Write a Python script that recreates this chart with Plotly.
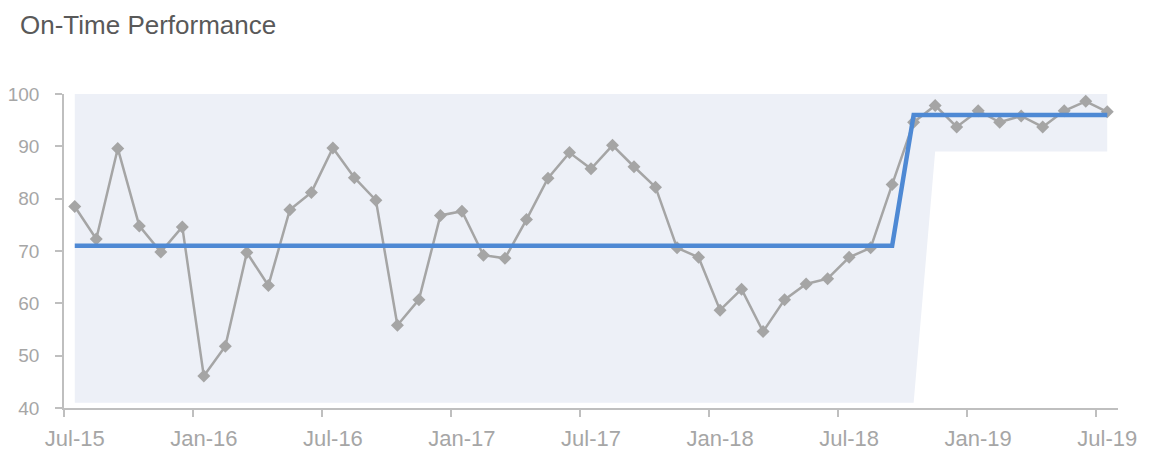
import plotly.graph_objects as go

months = ["Jul-15","Aug-15","Sep-15","Oct-15","Nov-15","Dec-15",
          "Jan-16","Feb-16","Mar-16","Apr-16","May-16","Jun-16",
          "Jul-16","Aug-16","Sep-16","Oct-16","Nov-16","Dec-16",
          "Jan-17","Feb-17","Mar-17","Apr-17","May-17","Jun-17",
          "Jul-17","Aug-17","Sep-17","Oct-17","Nov-17","Dec-17",
          "Jan-18","Feb-18","Mar-18","Apr-18","May-18","Jun-18",
          "Jul-18","Aug-18","Sep-18","Oct-18","Nov-18","Dec-18",
          "Jan-19","Feb-19","Mar-19","Apr-19","May-19","Jun-19",
          "Jul-19"]

performance = [78.5, 72.3, 89.6, 74.8, 69.8, 74.6,
               46.1, 51.8, 69.7, 63.4, 77.9, 81.2,
               89.7, 84.0, 79.7, 55.8, 60.7, 76.8,
               77.6, 69.2, 68.6, 76.0, 83.9, 88.8,
               85.7, 90.2, 86.1, 82.2, 70.6, 68.8,
               58.7, 62.7, 54.6, 60.7, 63.7, 64.7,
               68.8, 70.6, 82.7, 94.6, 97.8, 93.7,
               96.8, 94.6, 95.8, 93.7, 96.8, 98.6,
               96.6]

mean_line = [71] * 39 + [96] * 10
band_upper = [100] * 49
band_lower = [41] * 40 + [89] * 9

tick_labels = ["Jul-15", "Jan-16", "Jul-16", "Jan-17", "Jul-17",
               "Jan-18", "Jul-18", "Jan-19", "Jul-19"]

x = list(range(len(months)))
label_pos = [months.index(t) for t in tick_labels]

FONT = "Liberation Sans, Arial, sans-serif"
AXIS_GRAY = "#bfbfbf"
LABEL_GRAY = "#a6a6a6"

# page body has an 8px default margin; size the figure to fit the window
W, H = 1141, 454

fig = go.Figure()

fig.add_trace(go.Scatter(x=x, y=band_lower, mode="lines",
                         line=dict(width=0, color="rgba(0,0,0,0)"),
                         hoverinfo="skip", showlegend=False))
fig.add_trace(go.Scatter(x=x, y=band_upper, mode="lines",
                         line=dict(width=0, color="rgba(0,0,0,0)"),
                         fill="tonexty", fillcolor="#edf0f7",
                         hoverinfo="skip", showlegend=False))
fig.add_trace(go.Scatter(x=x, y=performance, mode="lines+markers",
                         line=dict(color="#a5a5a5", width=2.5),
                         marker=dict(symbol="diamond", size=10, color="#a5a5a5"),
                         showlegend=False))
fig.add_trace(go.Scatter(x=x, y=mean_line, mode="lines",
                         line=dict(color="#4e89d4", width=4.5),
                         showlegend=False))

fig.update_layout(
    width=W, height=H,
    margin=dict(l=56, r=31, t=86, b=54, autoexpand=False),
    plot_bgcolor="white", paper_bgcolor="white",
    font=dict(family=FONT, color=LABEL_GRAY),
    title=dict(text="On-Time Performance", x=12/W, xref="container",
               xanchor="left", y=1-17/H, yref="container", yanchor="middle",
               font=dict(family=FONT, size=26, color="#595959")),
    xaxis=dict(range=[-0.5, len(months) - 0.5], showgrid=False, zeroline=False,
               automargin=False,
               showline=True, linecolor=AXIS_GRAY, linewidth=1.5,
               tickmode="array", tickvals=label_pos, ticktext=tick_labels,
               ticks="", ticklabelstandoff=10,
               tickfont=dict(family=FONT, size=22, color=LABEL_GRAY),
               minor=dict(ticks="outside", tickmode="linear", tick0=-0.5, dtick=6,
                          ticklen=7, tickcolor=AXIS_GRAY, tickwidth=1.5, showgrid=False)),
    yaxis=dict(range=[40, 100], showgrid=False, zeroline=False,
               automargin=False,
               showline=True, linecolor=AXIS_GRAY, linewidth=1.5,
               tickmode="linear", tick0=40, dtick=10,
               ticks="outside", ticklen=7, tickcolor=AXIS_GRAY, tickwidth=1.5,
               ticklabelstandoff=12,
               tickfont=dict(family=FONT, size=19, color=LABEL_GRAY)),
)

fig.write_html("out.html")
